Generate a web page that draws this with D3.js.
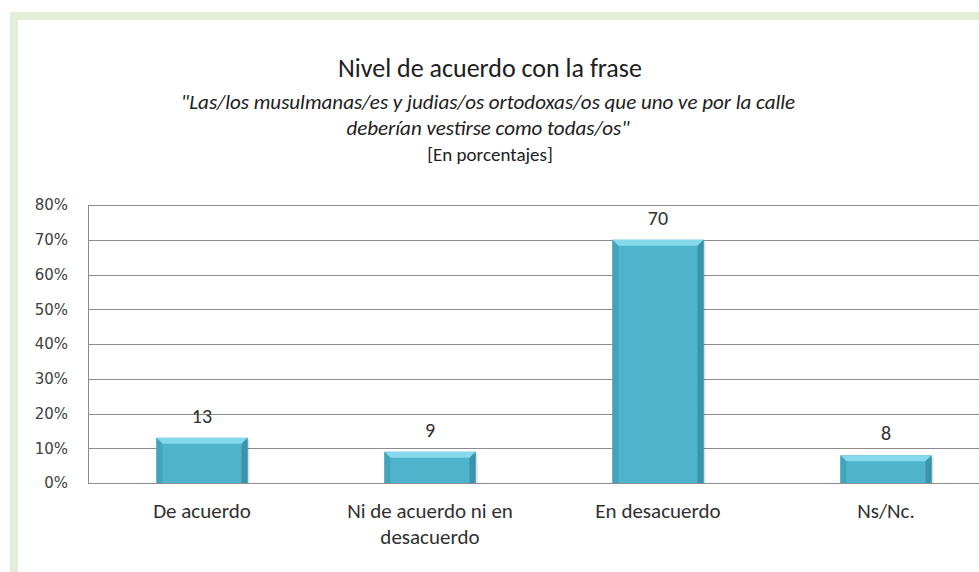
<!DOCTYPE html>
<html><head><meta charset="utf-8">
<script src="https://cdn.jsdelivr.net/npm/d3@7"></script>
<style>
html,body{margin:0;padding:0;background:#fff;}
svg{display:block;font-family:Carlito,Calibri,"Open Sans","Noto Sans",sans-serif;}
</style></head>
<body>
<svg id="chart" width="979" height="572"></svg>
<script>
const categories = [["De acuerdo"], ["Ni de acuerdo ni en", "desacuerdo"], ["En desacuerdo"], ["Ns/Nc."]];
const values = [13, 9, 70, 8];
const yTicks = [0, 10, 20, 30, 40, 50, 60, 70, 80];
const titleText = "Nivel de acuerdo con la frase";
const subtitleLines = ["\"Las/los musulmanas/es y judias/os ortodoxas/os que uno ve por la calle", "deberían vestirse como todas/os\""];
const unitText = "[En porcentajes]";

const svg = d3.select("#chart");
const W = 979, H = 572;

// frame
svg.append("rect").attr("x", 14).attr("y", 16).attr("width", W + 20).attr("height", H + 20)
  .attr("fill", "#fff").attr("stroke", "#e2eed8").attr("stroke-width", 8);

const m = {left: 88, top: 205, right: 1000, bottom: 483};
const x = d3.scaleBand().domain(d3.range(categories.length)).range([m.left, m.right]).paddingInner(0.6).paddingOuter(0.3);
const y = d3.scaleLinear().domain([0, 80]).range([m.bottom, m.top]);

// gridlines
svg.append("g").selectAll("line").data(yTicks).join("line")
  .attr("x1", m.left).attr("x2", m.right)
  .attr("y1", d => Math.round(y(d)) + 0.5).attr("y2", d => Math.round(y(d)) + 0.5)
  .attr("stroke", "#8c8c8c").attr("stroke-width", 1);
svg.append("line").attr("x1", m.left + 0.5).attr("x2", m.left + 0.5).attr("y1", y(80)).attr("y2", y(0))
  .attr("stroke", "#8c8c8c");

// y axis labels
const yAxis = d3.axisLeft(y).tickValues(yTicks).tickSize(0).tickPadding(20).tickFormat(d => d + "%");
const gy = svg.append("g").attr("transform", `translate(${m.left},0)`).call(yAxis);
gy.select(".domain").remove();
gy.attr("font-family", null).attr("font-size", null);
gy.selectAll("text").attr("font-size", 15).attr("fill", "#404040").style("font-family", "'DejaVu Sans',Verdana,sans-serif");

// bars with bevel
const gBar = svg.append("g");
const bev = 6;
values.forEach((v, i) => {
  const x0 = x(i), x1 = x(i) + x.bandwidth(), y0 = y(v), y1 = y(0);
  const g = gBar.append("g");
  g.append("rect").attr("x", x0 + 2).attr("y", y0 + 2).attr("width", x1 - x0).attr("height", y1 - y0 - 2)
    .attr("fill", "#000").attr("opacity", 0.12);
  g.append("rect").attr("x", x0).attr("y", y0).attr("width", x1 - x0).attr("height", y1 - y0).attr("fill", "#4fb3cc");
  g.append("polygon").attr("points", [[x0, y0], [x1, y0], [x1 - bev, y0 + bev], [x0 + bev, y0 + bev]].join(" ")).attr("fill", "#86d8ec");
  g.append("polygon").attr("points", [[x0, y0], [x0 + bev, y0 + bev], [x0 + bev, y1], [x0, y1]].join(" ")).attr("fill", "#43a3bb");
  g.append("polygon").attr("points", [[x1, y0], [x1 - bev, y0 + bev], [x1 - bev, y1], [x1, y1]].join(" ")).attr("fill", "#3a93aa");
  svg.append("text").attr("x", x0 + x.bandwidth() / 2).attr("y", y0 - 15).attr("text-anchor", "middle")
    .attr("font-size", 20).attr("fill", "#303030").text(v);
});

// category labels
categories.forEach((lines, i) => {
  const t = svg.append("text").attr("text-anchor", "middle").attr("font-size", 21).attr("fill", "#303030");
  lines.forEach((l, j) => t.append("tspan").attr("x", x(i) + x.bandwidth() / 2).attr("y", 518 + j * 26).text(l));
});

// titles
const cx = 490;
svg.append("text").attr("x", cx).attr("y", 77).attr("text-anchor", "middle").attr("font-size", 26).attr("fill", "#202020").text(titleText);
subtitleLines.forEach((l, j) => svg.append("text").attr("x", cx - 2).attr("y", 109 + j * 26).attr("text-anchor", "middle")
  .attr("font-size", 21).attr("font-style", "italic").attr("fill", "#202020").text(l));
svg.append("text").attr("x", cx).attr("y", 161).attr("text-anchor", "middle").attr("font-size", 19).attr("fill", "#202020").text(unitText);
</script>
</body></html>
